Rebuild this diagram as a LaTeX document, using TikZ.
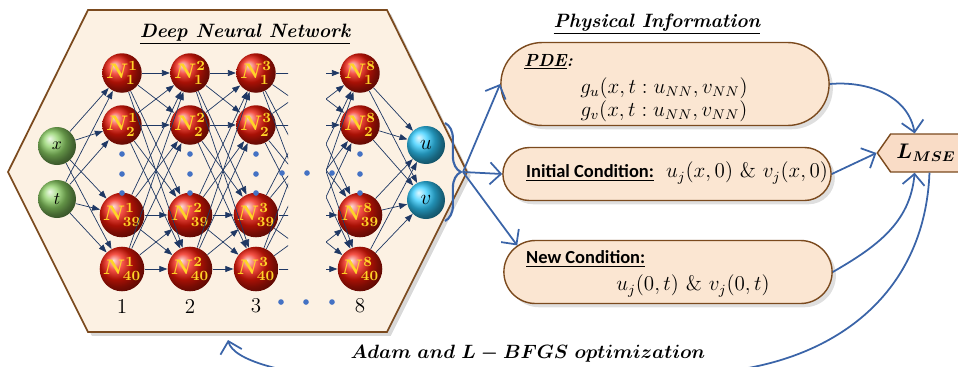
\documentclass[tikz,border=0pt]{standalone}
\usepackage{fontspec}
\newfontfamily\calibri{Carlito}
\usetikzlibrary{arrows.meta, shadows, shapes.misc, shapes.symbols, decorations.pathreplacing}
\definecolor{hexfill}{HTML}{FCF1E3}
\definecolor{hexline}{HTML}{7B4A1E}
\definecolor{boxfill}{HTML}{FBE6D2}
\definecolor{lossfill}{HTML}{F9DCC6}
\definecolor{netline}{HTML}{1F3864}
\definecolor{flow}{HTML}{3A64A8}
\definecolor{ndred}{HTML}{F01808}
\definecolor{ndgreen}{HTML}{8CD064}
\definecolor{ndcyan}{HTML}{30CCFF}
\definecolor{ndtext}{HTML}{FFD427}
\definecolor{dotblue}{HTML}{4472C4}
\tikzset{
  neuron/.style={circle, shading=ball, ball color=#1, minimum size=0.76cm, inner sep=0pt},
  neuron/.default=ndred,
  link/.style={-{Triangle[length=1.6mm, width=1.2mm]}, line width=0.4pt, draw=netline},
  flowarr/.style={-{Straight Barb[length=2.2mm]}, line width=1pt, draw=flow},
  infobox/.style={rounded rectangle, draw=hexline, line width=0.8pt, fill=boxfill,
                  minimum width=6.8cm, drop shadow={opacity=0.25}},
  hdots/.style={circle, fill=dotblue, inner sep=0pt, minimum size=3.2pt},
  heading/.style={font=\fontsize{11}{13}\selectfont\bfseries\itshape},
}

\begin{document}
\begin{tikzpicture}[x=0.02cm, y=-0.02cm,
  lbl/.style={font=\large\boldmath, text=ndtext},
  cond/.style={anchor=west, font=\calibri\fontsize{10.5}{12}\selectfont\bfseries}]
  \useasboundingbox (0,0) rectangle (958,366);
  \clip (0,0) rectangle (958,366);

  % network frame
  \draw[hexline, line width=1pt, fill=hexfill, drop shadow={opacity=0.3}]
    (88,10) -- (387,10) -- (467,172) -- (387,332) -- (88,332) -- (8,172) -- cycle;
  \node[heading] (dnn) at (245,34) {\underline{Deep Neural Network}};

  % inputs
  \node[neuron=ndgreen] (x) at (57,146) {$x$};
  \node[neuron=ndgreen] (t) at (57,199) {$t$};

  % hidden layers
  \foreach \lay/\cx in {1/122, 2/190, 3/256, 8/360} {
    \foreach \row/\cy in {1/73, 2/125, 39/215, 40/269}
      \node[neuron, lbl] (n\lay-\row) at (\cx,\cy) {$N^{\lay}_{\row}$};
    \foreach \cy in {154, 174, 193}
      \node[hdots] (d\lay-\cy) at (\cx,\cy) {};
  }

  % outputs
  \node[neuron=ndcyan, font=\large] (u) at (426,145) {$u$};
  \node[neuron=ndcyan, font=\large] (v) at (426,200) {$v$};

  % links
  \foreach \inp in {x,t}
    \foreach \row in {1,2,39,40}
      \draw[link] (\inp) -- (n1-\row);
  \foreach \a/\b in {1/2, 2/3}
    \foreach \row in {1,2,39,40}
      \foreach \s in {1,2,39,40}
        \draw[link] (n\a-\row) -- (n\b-\s);
  \foreach \row in {1,2,39,40}
    \foreach \outn in {u,v}
      \draw[link] (n8-\row) -- (\outn);

  % links cut off between layer 3 and layer 8
  \foreach \cy in {73, 125, 215, 269} {
    \coordinate (p4-\cy) at (330,\cy);
    \coordinate (p7-\cy) at (292,\cy);
  }
  \begin{scope}
    \clip (256,0) rectangle (288,366);
    \foreach \row in {1,2,39,40}
      \foreach \cy in {73, 125, 215, 269}
        \draw[netline, line width=0.4pt] (n3-\row) -- (p4-\cy);
  \end{scope}
  \begin{scope}
    \clip (326,0) rectangle (360,366);
    \foreach \row in {1,2,39,40}
      \foreach \cy in {73, 125, 215, 269}
        \draw[link] (p7-\cy) -- (n8-\row);
  \end{scope}

  % skipped layers
  \foreach \cx in {282, 307, 332}
    \node[hdots] (m\cx) at (\cx,173) {};
  \foreach \lay/\cx in {1/122, 2/190, 3/256, 8/360}
    \node[font=\large] (k\lay) at (\cx,306) {\lay};
  \foreach \cx in {281, 306, 332}
    \node[hdots] (b\cx) at (\cx,302) {};

  % physical information
  \node[heading] (phys) at (657,24) {\underline{Physical Information}};
  \node[infobox, minimum height=1.66cm] (pde) at (665,84) {};
  \node[anchor=west, font=\bfseries\itshape] (pdet) at (518,62) {\underline{PDE}:};
  \node[font=\large] (gu) at (664,88) {$g_u(x,t:u_{NN},v_{NN})$};
  \node[font=\large] (gv) at (664,111) {$g_v(x,t:u_{NN},v_{NN})$};

  \node[infobox, minimum height=1.06cm] (init) at (667,174) {};
  \node[cond] (initt) at (520,173) {\underline{Initial Condition:}};
  \node[anchor=west, font=\large] (initm) at (660,173) {$u_j(x,0)$ \& $v_j(x,0)$};

  \node[infobox, minimum height=1.26cm] (new) at (668,272) {};
  \node[cond] (newt) at (520,259) {\underline{New Condition:}};
  \node[font=\large] (newm) at (693,286) {$u_j(0,t)$ \& $v_j(0,t)$};

  % loss
  \node[signal, signal to=east and west, signal pointer angle=110, draw=hexline,
        line width=0.8pt, fill=lossfill, minimum width=1.6cm, minimum height=0.76cm,
        font=\large\boldmath] (lmse) at (926,153) {$L_{MSE}$};

  % outputs to physical information
  \draw[flow, line width=1.2pt, decorate, decoration={brace, amplitude=9pt}] (445,123) -- (445,221);
  \coordinate (fan) at (463,172);
  \draw[flowarr] (fan) -- (pde.west);
  \draw[flowarr] (fan) -- (init.west);
  \draw[flowarr] (fan) -- (new.170);

  % terms of the loss
  \draw[flowarr] (pde.east) to[out=5, in=100] (lmse.120);
  \draw[flowarr] (init.east) -- (lmse.west);
  \draw[flowarr] (new.east) to[out=30, in=-95] (lmse.-120);

  % optimization loop
  \coordinate (opt) at (228,340);
  \draw[flowarr] (lmse.-80) .. controls (925,290) and (840,360) .. (720,372)
    .. controls (420,400) and (238,378) .. (opt);
  \node[font=\fontsize{11}{13}\selectfont\boldmath] (adam) at (528,354)
    {$Adam\ and\ L-BFGS\ optimization$};
\end{tikzpicture}
\end{document}
